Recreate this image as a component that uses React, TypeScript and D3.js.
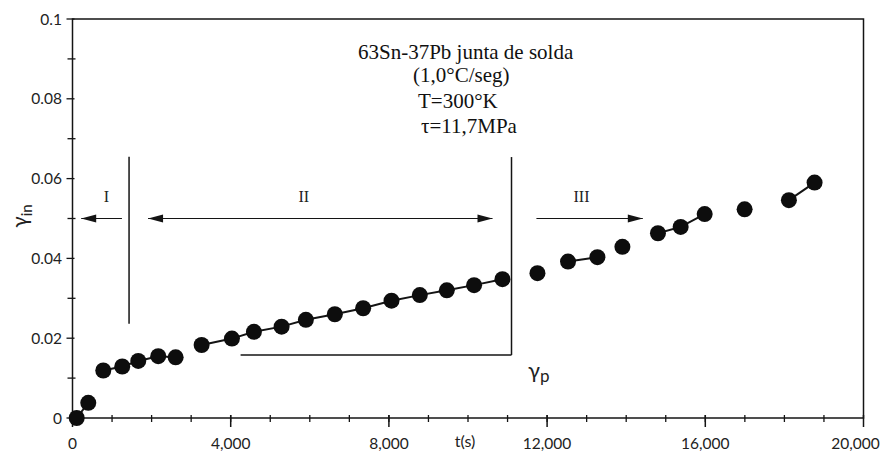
import React, { useEffect, useRef } from 'react';
import * as d3 from 'd3';

// time (s) and inelastic strain
const timeS = [
  106, 399, 778, 1258, 1663, 2168, 2608, 3265, 4031, 4587, 5287, 5901, 6633, 7349, 8066,
  8782, 9464, 10154, 10871, 11756, 12529, 13272, 13904, 14803, 15377, 15984, 16994, 18114, 18763,
];
const strain = [
  0.0, 0.0038, 0.0119, 0.0129, 0.0143, 0.0155, 0.0152, 0.0183, 0.0199, 0.0216, 0.0229, 0.0246,
  0.026, 0.0275, 0.0294, 0.0308, 0.032, 0.0333, 0.0348, 0.0363, 0.0392, 0.0403, 0.0429, 0.0463,
  0.0479, 0.0511, 0.0523, 0.0546, 0.059,
];
// runs of points joined by the connecting line (the scan shows breaks)
const lineRuns = [[0, 1], [2, 6], [7, 18], [20, 21], [23, 25], [27, 28]];

const xMajor = [0, 4000, 8000, 12000, 16000, 20000];
const xMinor = d3.range(1000, 20000, 1000);
const yMajor = [0, 0.02, 0.04, 0.06, 0.08, 0.1];
const yMinor = [0.01, 0.03, 0.05, 0.07, 0.09];
const xTickLabels = ['0', '4,000', '8,000', '12,000', '16,000', '20,000'];
const yTickLabels = ['0', '0.02', '0.04', '0.06', '0.08', '0.1'];

const titleLines = ['63Sn-37Pb junta de solda', '(1,0°C/seg)', 'T=300°K', 'τ=11,7MPa'];

// region boundaries and arrows (data units)
const regionBounds = [
  { x: 1430, y0: 0.0236, y1: 0.0655 },
  { x: 11100, y0: 0.0158, y1: 0.0654 },
];
const arrows = [
  { from: 1250, to: 220, both: false },
  { from: 1910, to: 10620, both: true },
  { from: 11730, to: 14420, both: false },
];
const regionLabels = [
  { text: 'I', x: 860 },
  { text: 'II', x: 5850 },
  { text: 'III', x: 12870 },
];

const W = 885;
const H = 452;

const App = () => {
  const svgRef = useRef<SVGSVGElement>(null);

  useEffect(() => {
    const svg = d3.select(svgRef.current);
    svg.selectAll('*').remove();

    const x = d3.scaleLinear().domain([0, 20000]).range([72.5, 863.5]);
    const y = d3.scaleLinear().domain([0, 0.1]).range([418, 19]);
    const ink = '#141414';
    const tickFont = 'Lato, "Open Sans", sans-serif';

    // frame
    svg.append('rect')
      .attr('x', x(0)).attr('y', y(0.1))
      .attr('width', x(20000) - x(0)).attr('height', y(0) - y(0.1))
      .attr('fill', 'none').attr('stroke', ink).attr('stroke-width', 1.5);

    // y ticks
    yMajor.forEach((v, i) => {
      svg.append('line')
        .attr('x1', x(0) - 6).attr('x2', x(0) + 2)
        .attr('y1', y(v)).attr('y2', y(v))
        .attr('stroke', ink).attr('stroke-width', 1.3);
      svg.append('text')
        .attr('x', 62).attr('y', y(v) + 5.5)
        .attr('text-anchor', 'end')
        .style('font-family', tickFont).style('font-size', '15.5px').attr('fill', '#222')
        .text(yTickLabels[i]);
    });
    yMinor.forEach((v) => {
      svg.append('line')
        .attr('x1', x(0) - 5).attr('x2', x(0) + 3)
        .attr('y1', y(v)).attr('y2', y(v))
        .attr('stroke', ink).attr('stroke-width', 1.3);
    });

    // x ticks
    xMinor.forEach((v) => {
      svg.append('line')
        .attr('x1', x(v)).attr('x2', x(v))
        .attr('y1', y(0) - 3).attr('y2', y(0) + 4)
        .attr('stroke', ink).attr('stroke-width', 1.3);
    });
    xMajor.forEach((v, i) => {
      svg.append('line')
        .attr('x1', x(v)).attr('x2', x(v))
        .attr('y1', y(0) - 3).attr('y2', y(0) + 9)
        .attr('stroke', ink).attr('stroke-width', 1.5);
      svg.append('text')
        .attr('x', i === xMajor.length - 1 ? x(v) - 8 : x(v)).attr('y', 448.5)
        .attr('text-anchor', 'middle')
        .style('font-family', tickFont).style('font-size', '15.5px').attr('fill', '#222')
        .text(xTickLabels[i]);
    });

    // axis titles
    svg.append('text')
      .attr('x', 465).attr('y', 447)
      .attr('text-anchor', 'middle')
      .style('font-family', tickFont).style('font-size', '16px').attr('fill', '#222')
      .text('t(s)');

    const yl = svg.append('text')
      .attr('transform', 'translate(27,216) rotate(-90)')
      .attr('text-anchor', 'middle')
      .style('font-family', tickFont).style('font-size', '21px').attr('fill', '#222');
    yl.append('tspan').text('γ');
    yl.append('tspan').attr('dy', 5).style('font-size', '15px').text('in');

    // annotation: title block
    const titleX = [358, 413, 418, 421];
    const titleY = [59, 82, 108, 133];
    titleLines.forEach((t, i) => {
      svg.append('text')
        .attr('x', titleX[i]).attr('y', titleY[i])
        .style('font-family', '"Liberation Serif", "Times New Roman", serif')
        .style('font-size', '21px').attr('fill', '#111')
        .text(t);
    });

    // region boundaries
    regionBounds.forEach((b) => {
      svg.append('line')
        .attr('x1', x(b.x)).attr('x2', x(b.x))
        .attr('y1', y(b.y0)).attr('y2', y(b.y1))
        .attr('stroke', ink).attr('stroke-width', 1.5);
    });
    // gamma_p bracket
    svg.append('line')
      .attr('x1', x(4250)).attr('x2', x(11100))
      .attr('y1', y(0.0158)).attr('y2', y(0.0158))
      .attr('stroke', ink).attr('stroke-width', 1.5);
    const gp = svg.append('text')
      .attr('x', 528).attr('y', 378)
      .style('font-family', tickFont).style('font-size', '22px').attr('fill', '#222');
    gp.append('tspan').text('γ');
    gp.append('tspan').attr('dy', 4).style('font-size', '17px').text('p');

    // arrows
    const ay = y(0.05);
    const head = (tip: number, dir: number) => {
      svg.append('path')
        .attr('d', `M${tip},${ay} L${tip - dir * 15},${ay - 4} L${tip - dir * 15},${ay + 4} Z`)
        .attr('fill', ink);
    };
    arrows.forEach((a) => {
      svg.append('line')
        .attr('x1', x(a.from)).attr('x2', x(a.to))
        .attr('y1', ay).attr('y2', ay)
        .attr('stroke', ink).attr('stroke-width', 1.2);
      const dir = a.to > a.from ? 1 : -1;
      head(x(a.to), dir);
      if (a.both) head(x(a.from), -dir);
    });
    regionLabels.forEach((r) => {
      svg.append('text')
        .attr('x', x(r.x)).attr('y', y(0.0541))
        .attr('text-anchor', 'middle')
        .style('font-family', '"Liberation Serif", serif').style('font-size', '16px')
        .attr('fill', '#222')
        .text(r.text);
    });

    // data line runs
    const line = d3.line<number>()
      .x((i) => x(timeS[i]))
      .y((i) => y(strain[i]));
    lineRuns.forEach(([a, b]) => {
      svg.append('path')
        .datum(d3.range(a, b + 1))
        .attr('fill', 'none')
        .attr('stroke', ink)
        .attr('stroke-width', 2)
        .attr('d', line);
    });

    // points
    svg.selectAll('circle.pt')
      .data(timeS)
      .enter()
      .append('circle')
      .attr('class', 'pt')
      .attr('cx', (d) => x(d))
      .attr('cy', (_d, i) => y(strain[i]))
      .attr('r', 8)
      .attr('fill', '#0d0d0d');
  }, []);

  return (
    <svg
      ref={svgRef}
      width={W}
      height={H}
      style={{ position: 'absolute', left: 0, top: 0, background: '#fff' }}
    />
  );
};

export default App;
